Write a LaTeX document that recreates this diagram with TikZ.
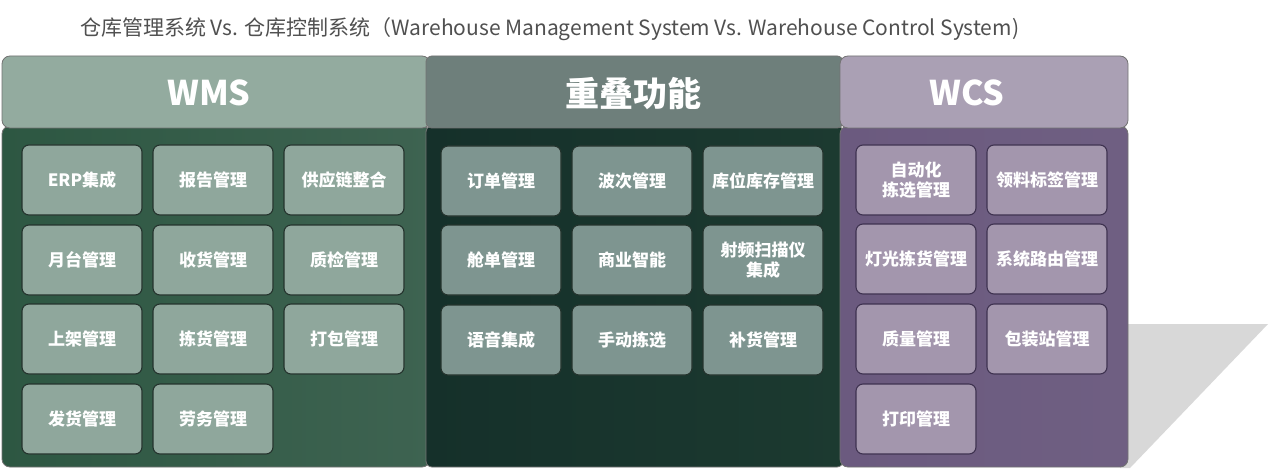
\documentclass[tikz,border=0pt]{standalone}
\usepackage{fontspec}
\setmainfont{Noto Sans CJK SC}
\definecolor{titlec}{HTML}{505050}
\definecolor{hdrW}{HTML}{93AB9F}
\definecolor{hdrO}{HTML}{6E7F7B}
\definecolor{hdrC}{HTML}{AAA0B4}
\definecolor{bodyWa}{HTML}{2D5742}
\definecolor{bodyWb}{HTML}{3E6351}
\definecolor{bodyOa}{HTML}{15302A}
\definecolor{bodyOb}{HTML}{1C3A30}
\definecolor{bodyCa}{HTML}{6B5A7F}
\definecolor{bodyCb}{HTML}{6F5F82}
\definecolor{cellW}{HTML}{8FA79C}
\definecolor{cellO}{HTML}{7E9590}
\definecolor{cellC}{HTML}{A396AD}
\definecolor{edge}{HTML}{24332D}
\definecolor{edgeC}{HTML}{3E3250}
\definecolor{shadowc}{HTML}{D8D8D8}
\tikzset{
  cellbase/.style={rounded corners=7pt, minimum width=120pt, minimum height=70pt,
    inner sep=2pt, align=center, text=white, font=\bfseries\fontsize{17}{20}\selectfont, line width=1.1pt},
  cellw/.style={cellbase, fill=cellW, draw=edge},
  cello/.style={cellbase, fill=cellO, draw=edge},
  cellc/.style={cellbase, fill=cellC, draw=edgeC},
  hdrtext/.style={text=white, font=\bfseries\fontsize{34}{38}\selectfont},
  paneledge/.style={draw=black!55, line width=0.8pt}
}
\begin{document}
\begin{tikzpicture}[x=1pt,y=-1pt]
\useasboundingbox (0,0) rectangle (1280,476);
\fill[white] (0,0) rectangle (1280,476);
% title
\node[anchor=west, text=titlec, font=\fontsize{21}{24}\selectfont, inner sep=0pt] (title) at (80,29)
  {仓库管理系统 Vs. 仓库控制系统（Warehouse Management System Vs. Warehouse Control System)};
% shadow
\fill[shadowc] (1120,324) -- (1268,324) -- (1130,468) -- (1120,468) -- cycle;
% bodies
\path[left color=bodyWa, right color=bodyWb, paneledge, rounded corners=8pt]
  (2,126) -- (2,467) -- (430,467) -- (430,126) -- cycle;
\path[left color=bodyOa, right color=bodyOb, paneledge, rounded corners=6pt]
  (426,126) -- (426,467) -- (843,467) -- (843,126) -- cycle;
\path[left color=bodyCa, right color=bodyCb, paneledge, rounded corners=8pt]
  (840,126) -- (840,467) -- (1128,467) -- (1128,126) -- cycle;
% headers
\path[fill=hdrW, paneledge, rounded corners=8pt] (2,56) rectangle (430,128);
\path[fill=hdrO, paneledge, rounded corners=6pt] (426,56) rectangle (843,128);
\path[fill=hdrC, paneledge, rounded corners=8pt] (840,56) rectangle (1128,128);
\node[hdrtext] (hW) at (209,93) {WMS};
\node[hdrtext] (hO) at (633,94) {重叠功能};
\node[hdrtext] (hC) at (967,93) {WCS};
% WMS cells
\node[cellw] (w1) at (82,180) {ERP集成};
\node[cellw] (w2) at (213,180) {报告管理};
\node[cellw] (w3) at (344,180) {供应链整合};
\node[cellw] (w4) at (82,260) {月台管理};
\node[cellw] (w5) at (213,260) {收货管理};
\node[cellw] (w6) at (344,260) {质检管理};
\node[cellw] (w7) at (82,339) {上架管理};
\node[cellw] (w8) at (213,339) {拣货管理};
\node[cellw] (w9) at (344,339) {打包管理};
\node[cellw] (w10) at (82,419) {发货管理};
\node[cellw] (w11) at (213,419) {劳务管理};
% overlap cells
\node[cello] (o1) at (501,181) {订单管理};
\node[cello] (o2) at (632,181) {波次管理};
\node[cello] (o3) at (763,181) {库位库存管理};
\node[cello] (o4) at (501,260) {舱单管理};
\node[cello] (o5) at (632,260) {商业智能};
\node[cello] (o6) at (763,260) {射频扫描仪\\集成};
\node[cello] (o7) at (501,340) {语音集成};
\node[cello] (o8) at (632,340) {手动拣选};
\node[cello] (o9) at (763,340) {补货管理};
% WCS cells
\node[cellc] (c1) at (916,180) {自动化\\拣选管理};
\node[cellc] (c2) at (1047,180) {领料标签管理};
\node[cellc] (c3) at (916,259) {灯光拣货管理};
\node[cellc] (c4) at (1047,259) {系统路由管理};
\node[cellc] (c5) at (916,339) {质量管理};
\node[cellc] (c6) at (1047,339) {包装站管理};
\node[cellc] (c7) at (916,419) {打印管理};
\end{tikzpicture}
\end{document}
